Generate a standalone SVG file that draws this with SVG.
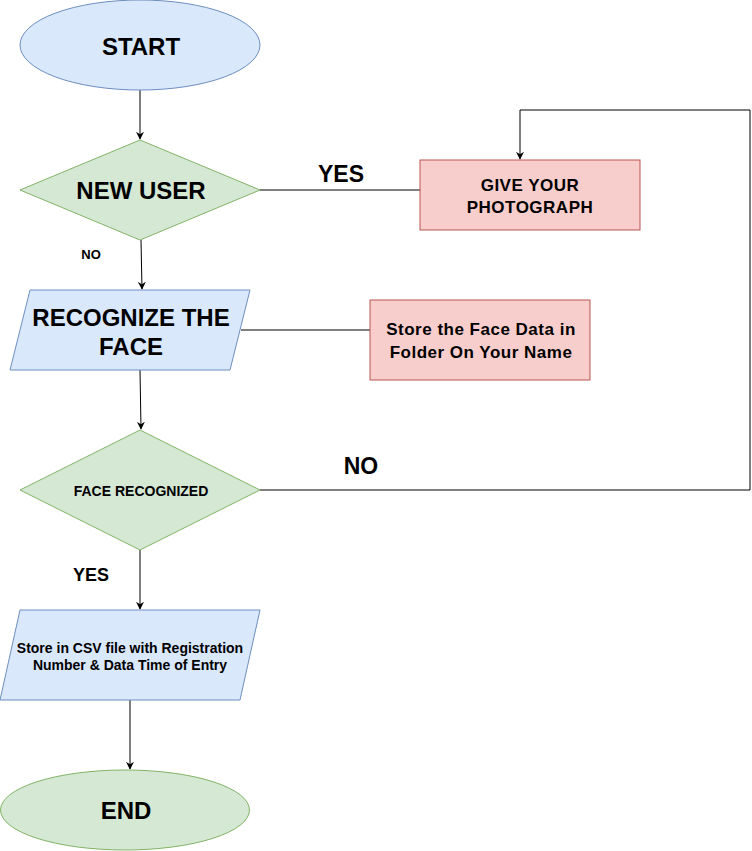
<svg xmlns="http://www.w3.org/2000/svg" width="752" height="851" viewBox="0 0 752 851">
<style>
.blue{fill:#dae8fc;stroke:#6c8ebf;stroke-width:1}
.green{fill:#d5e8d4;stroke:#82b366;stroke-width:1}
.red{fill:#f8cecc;stroke:#b85450;stroke-width:1}
text{font-family:"Liberation Sans",Arial,sans-serif;font-weight:bold;fill:#000;text-anchor:middle}
.big{font-size:24px}
.mid{font-size:17px;letter-spacing:0.5px}
.sm{font-size:14px}
.edge{fill:none;stroke:#000;stroke-width:1}
</style>
<defs>
<marker id="arr" viewBox="0 0 10 10" refX="9" refY="5" markerWidth="8" markerHeight="8" markerUnits="userSpaceOnUse" orient="auto">
<path d="M0,0 L10,5 L0,10 L3,5 Z" fill="#000"/>
</marker>
</defs>
<g id="connectors">
<path class="edge" d="M140,90 L140,139" marker-end="url(#arr)"/>
<path class="edge" d="M260,190 L420,190"/>
<path class="edge" d="M141,240 L142,289" marker-end="url(#arr)"/>
<path class="edge" d="M241,330 L370,330"/>
<path class="edge" d="M140,370 L141,429" marker-end="url(#arr)"/>
<path class="edge" d="M260,490 L750,490 L750,110 L520,110 L520,159" marker-end="url(#arr)"/>
<path class="edge" d="M140,550 L140,609" marker-end="url(#arr)"/>
<path class="edge" d="M130,700 L130,769" marker-end="url(#arr)"/>
<text x="341" y="182" font-size="23">YES</text>
<text x="91" y="259" font-size="13">NO</text>
<text x="361" y="474" font-size="23">NO</text>
<text x="91" y="581" font-size="18">YES</text>
</g>
<g id="start">
<ellipse class="blue" cx="140" cy="45" rx="120" ry="45"/>
<text class="big" x="141" y="55">START</text>
</g>
<g id="new-user">
<polygon class="green" points="140,140 260,190 140,240 20,190"/>
<text class="big" x="141" y="199">NEW USER</text>
</g>
<g id="give-photo">
<rect class="red" x="420" y="160" width="220" height="70"/>
<text class="mid" x="530" y="191">GIVE YOUR</text>
<text class="mid" x="530" y="213">PHOTOGRAPH</text>
</g>
<g id="recognize">
<polygon class="blue" points="30,290 250,290 230,370 10,370"/>
<text class="big" x="131" y="326">RECOGNIZE THE</text>
<text class="big" x="131" y="355">FACE</text>
</g>
<g id="store-face">
<rect class="red" x="370" y="300" width="220" height="80"/>
<text class="mid" x="481" y="335">Store the Face Data in</text>
<text class="mid" x="481" y="358">Folder On Your Name</text>
</g>
<g id="face-recognized">
<polygon class="green" points="140,430 260,490 140,550 20,490"/>
<text class="sm" x="141" y="496">FACE RECOGNIZED</text>
</g>
<g id="store-csv">
<polygon class="blue" points="20,610 260,610 240,700 0,700"/>
<text class="sm" x="130" y="653">Store in CSV file with Registration</text>
<text class="sm" x="130" y="670">Number &amp; Data Time of Entry</text>
</g>
<g id="end">
<ellipse class="green" cx="125" cy="810" rx="124.5" ry="40"/>
<text class="big" x="126" y="819">END</text>
</g>
</svg>
